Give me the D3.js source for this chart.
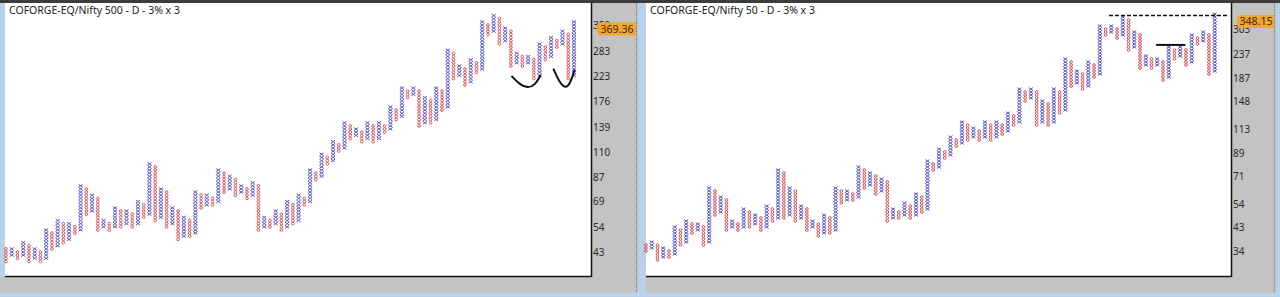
<!DOCTYPE html>
<html>
<head>
<meta charset="utf-8">
<script src="https://cdn.jsdelivr.net/npm/d3@7"></script>
<style>
  html, body { margin: 0; padding: 0; background: #b9d1ea; }
  svg { display: block; }
  text { font-family: "Noto Sans", "Open Sans", sans-serif; }
</style>
</head>
<body>
<svg id="chart" width="1280" height="297"></svg>
<script>
// point & figure columns, box counts above the base price (3% boxes)
const boxPct = 3;

const leftTitle = "COFORGE-EQ/Nifty 500 - D - 3% x 3";
const leftBase = 43;
const leftFirst = "O";
const leftLow  = [-3,-1,-2,-1,-3,-2,-3,-2,1,2,3,4,6,7,12,13,7,8,7,8,8,9,8,9,11,12,10,11,8,9,
                  4,5,5,6,14,15,15,16,19,20,18,19,17,18,7,8,8,9,7,8,9,10,15,16,23,24,28,29,32,33,
                  36,37,35,36,35,36,38,39,42,43,49,50,40,41,41,42,45,46,55,56,53,54,57,58,69,70,66,67,59,60,
                  59,60,55,56,61,62,65,66,55,56];
const leftHigh = [1,1,0,3,2,1,0,7,6,10,9,9,8,21,20,18,17,10,9,14,13,13,12,16,15,28,27,20,19,14,
                  13,11,10,19,18,18,17,26,25,24,23,21,20,22,21,11,10,13,12,16,15,18,17,26,25,31,30,35,34,41,
                  40,39,38,41,40,41,40,46,45,52,51,52,51,49,48,52,51,64,63,59,58,61,60,73,72,75,74,71,70,63,
                  62,62,61,66,65,68,67,70,69,73];
const leftTicks = [43, 54, 69, 87, 110, 139, 176, 223, 283, 359];
const leftLast = 369.36;

const rightTitle = "COFORGE-EQ/Nifty 50 - D - 3% x 3";
const rightBase = 34;
const rightFirst = "O";
const rightLow  = [0,1,-3,-2,-2,-1,2,3,6,7,2,3,12,13,7,8,7,8,8,9,7,8,10,11,11,12,10,11,7,8,
                   5,6,6,7,16,17,17,18,21,22,19,20,10,11,11,12,11,12,13,14,27,28,31,32,35,36,37,38,37,38,
                   37,38,39,40,42,43,50,51,42,43,42,43,46,47,55,56,54,55,58,59,72,73,71,72,67,68,61,62,61,62,
                   57,58,64,65,62,63,69,70,59,60];
const rightHigh = [2,3,2,1,0,8,7,10,9,9,8,21,20,18,17,10,9,14,13,12,11,15,14,27,26,21,20,15,14,10,
                   9,12,11,21,20,20,19,28,27,26,25,24,23,14,13,16,15,19,18,30,29,34,33,38,37,43,42,41,40,43,
                   42,43,42,46,45,54,53,54,53,50,49,54,53,64,63,60,59,63,62,75,74,75,74,78,77,73,72,65,64,64,
                   63,68,67,68,67,72,71,73,72,79];
const rightTicks = [34, 43, 54, 71, 89, 113, 148, 187, 237, 303];
const rightLast = 348.15;

// hand drawn annotations (column position, price)
const leftArcs = [
  [[89.1, 224], [90.6, 206], [91.9, 200], [93.2, 205], [94.2, 226]],
  [[96.4, 240], [97.4, 212], [98.5, 198], [99.4, 210], [100.1, 237]]
];
const rightDashed = { from: 81.6, to: 102.5, price: 346 };
const rightSolid = { from: 89.8, to: 94.9, price: 259 };

const svg = d3.select("#chart");

function drawPanel(p) {
  const g = svg.append("g");

  // axis strip and bottom strip
  g.append("rect").attr("x", p.left).attr("y", 3)
    .attr("width", p.axisRight - p.left).attr("height", 290).attr("fill", "#c3c3c3");
  g.append("line").attr("x1", p.axisRight - 1.5).attr("x2", p.axisRight - 1.5)
    .attr("y1", 3).attr("y2", 293).attr("stroke", "#7a7a7a").attr("stroke-dasharray", "1,1");
  // plot area
  g.append("rect").attr("x", p.left).attr("y", 3)
    .attr("width", p.right - p.left).attr("height", p.bottom - 3).attr("fill", "#fff");
  g.append("path")
    .attr("d", `M${p.right + 0.5},3 V${p.bottom + 0.5} H${p.left}`)
    .attr("fill", "none").attr("stroke", "#111").attr("stroke-width", 1.5);

  g.append("text").attr("x", p.left + 4).attr("y", 14)
    .attr("font-size", 10.5).attr("fill", "#222").text(p.title);

  const y = d3.scaleLog().domain(p.domain).range(p.range);
  const x = d3.scaleLinear().domain([0, p.low.length - 1]).range(p.xRange);
  const step = 1 + boxPct / 100;

  // columns
  p.low.forEach((lo, i) => {
    const isX = (i % 2 === 0) ? p.first === "X" : p.first !== "X";
    const boxes = d3.range(lo, p.high[i] + 1).map(b => p.base * Math.pow(step, b));
    const cx = x(i);
    if (isX) {
      g.append("g").selectAll("path").data(boxes).join("path")
        .attr("d", v => `M${cx - 2},${y(v) - 1.4}L${cx + 2},${y(v) + 1.4}M${cx - 2},${y(v) + 1.4}L${cx + 2},${y(v) - 1.4}`)
        .attr("stroke", "#5858cc").attr("stroke-width", 1).attr("fill", "none");
    } else {
      g.append("g").selectAll("circle").data(boxes).join("circle")
        .attr("cx", cx).attr("cy", v => y(v)).attr("r", 1.35)
        .attr("stroke", "#da5656").attr("stroke-width", 1).attr("fill", "none");
    }
  });

  // price axis
  const ax = g.append("g").attr("transform", `translate(${p.right},0)`)
    .call(d3.axisRight(y).tickValues(p.ticks).tickFormat(d3.format("d")).tickSize(0).tickPadding(2));
  ax.select(".domain").remove();
  ax.selectAll("text").attr("font-size", 10).attr("fill", "#2a2a2a")
    .attr("font-family", "'Noto Sans', sans-serif");

  // last price tag
  const ty = y(p.last);
  const tx = p.right + 3;
  g.append("path")
    .attr("d", `M${tx + 5},${ty} H${p.axisRight - 2} V${ty + 13} H${tx + 5} Q${tx},${ty + 6.5} ${tx + 5},${ty}Z`)
    .attr("fill", "#f3a62c");
  g.append("text").attr("x", (tx + p.axisRight) / 2 + 1).attr("y", ty + 10.5)
    .attr("text-anchor", "middle")
    .attr("font-size", 10.5).attr("fill", "#3a2a10").text(d3.format(".2f")(p.last));

  return { g, x, y };
}

const L = drawPanel({
  title: leftTitle, base: leftBase, first: leftFirst, low: leftLow, high: leftHigh,
  ticks: leftTicks, last: leftLast,
  left: 5, right: 591, axisRight: 638, bottom: 276,
  domain: [43, 283], range: [252, 51], xRange: [6, 574]
});

const R = drawPanel({
  title: rightTitle, base: rightBase, first: rightFirst, low: rightLow, high: rightHigh,
  ticks: rightTicks, last: rightLast,
  left: 646, right: 1231, axisRight: 1276, bottom: 276,
  domain: [34, 303], range: [251, 29], xRange: [646, 1214.7]
});

// annotations
const arcLine = d3.line().x(d => L.x(d[0] - 1)).y(d => L.y(d[1])).curve(d3.curveBasis);
L.g.selectAll(".arc").data(leftArcs).join("path")
  .attr("d", arcLine).attr("fill", "none").attr("stroke", "#111").attr("stroke-width", 2);

R.g.append("line")
  .attr("x1", R.x(rightDashed.from - 1)).attr("x2", R.x(rightDashed.to - 1))
  .attr("y1", R.y(rightDashed.price)).attr("y2", R.y(rightDashed.price))
  .attr("stroke", "#111").attr("stroke-width", 1.5).attr("stroke-dasharray", "4,2");
R.g.append("line")
  .attr("x1", R.x(rightSolid.from - 1)).attr("x2", R.x(rightSolid.to - 1))
  .attr("y1", R.y(rightSolid.price)).attr("y2", R.y(rightSolid.price))
  .attr("stroke", "#111").attr("stroke-width", 2);

// window chrome: top strip
svg.append("rect").attr("x", 0).attr("y", 0).attr("width", 1280).attr("height", 3).attr("fill", "#3c3c3c");
svg.append("rect").attr("x", 0).attr("y", 276.5).attr("width", 5).attr("height", 17).attr("fill", "#c3c3c3");
</script>
</body>
</html>
